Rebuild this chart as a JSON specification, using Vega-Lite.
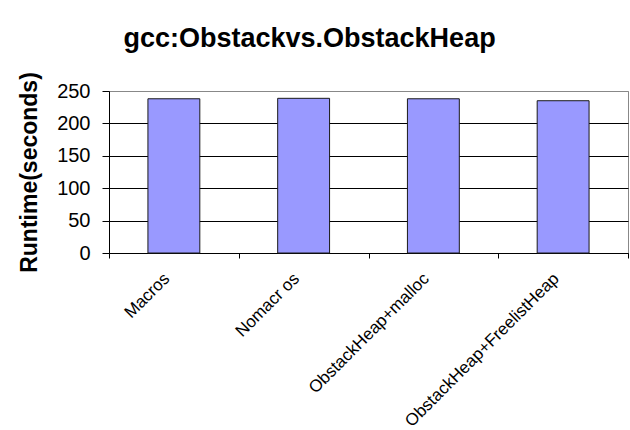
{
  "$schema": "https://vega.github.io/schema/vega-lite/v6.json",
  "width": 519,
  "height": 162,
  "autosize": {"type": "none"},
  "padding": {"left": 109, "top": 91, "right": 2, "bottom": 177},
  "background": "white",
  "title": {
    "text": "gcc:Obstackvs.ObstackHeap",
    "font": "Liberation Sans",
    "fontSize": 27,
    "fontWeight": "bold",
    "color": "black",
    "anchor": "middle",
    "frame": "bounds",
    "offset": 19,
    "dx": -14
  },
  "data": {
    "values": [
      {"config": "Macros", "runtime": 238},
      {"config": "Nomacr os", "runtime": 238.7},
      {"config": "ObstackHeap+malloc", "runtime": 238},
      {"config": "ObstackHeap+FreelistHeap", "runtime": 235}
    ]
  },
  "mark": {"type": "bar", "fill": "#9999FF", "stroke": "#1a1a1a", "strokeWidth": 1, "width": {"band": 0.4}},
  "encoding": {
    "x": {
      "field": "config",
      "type": "nominal",
      "sort": null,
      "scale": {"paddingInner": 0, "paddingOuter": 0},
      "axis": {
        "title": null,
        "labelAngle": -45,
        "tickBand": "extent",
        "labelFontSize": 17,
        "labelFont": "Liberation Sans",
        "labelColor": "black",
        "labelLimit": 400,
        "labelOffset": -13,
        "domainColor": "black",
        "tickColor": "black",
        "tickSize": 5,
        "labelPadding": 12,
        "grid": false
      }
    },
    "y": {
      "field": "runtime",
      "type": "quantitative",
      "scale": {"domain": [0, 250], "nice": false},
      "axis": {
        "title": "Runtime(seconds)",
        "values": [0, 50, 100, 150, 200, 250],
        "titleFont": "Liberation Sans",
        "titleFontSize": 23,
        "titleFontWeight": "bold",
        "titleColor": "black",
        "titlePadding": 15,
        "labelFont": "Liberation Sans",
        "labelFontSize": 20,
        "labelColor": "black",
        "labelPadding": 12,
        "tickSize": 7,
        "tickColor": "black",
        "domainColor": "black",
        "grid": true,
        "gridColor": {"condition": {"test": "datum.value == 250", "value": "#888888"}, "value": "black"},
        "gridOpacity": 1
      }
    }
  },
  "config": {
    "view": {"stroke": "#888888"},
    "axis": {"domainWidth": 1, "tickWidth": 1, "gridWidth": 1}
  }
}
